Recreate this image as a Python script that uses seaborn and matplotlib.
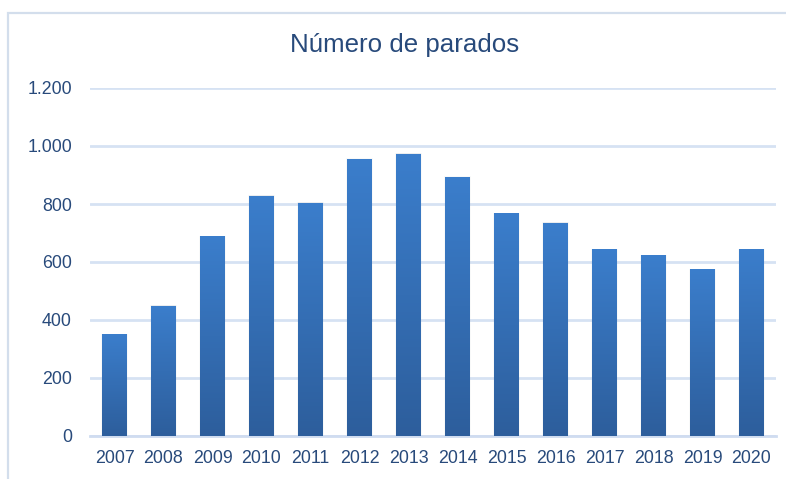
import numpy as np
import pandas as pd
import matplotlib
matplotlib.use("Agg")
import matplotlib.pyplot as plt
import seaborn as sns
from matplotlib.colors import LinearSegmentedColormap
from matplotlib.patches import Rectangle
from matplotlib.ticker import FuncFormatter

years = ["2007", "2008", "2009", "2010", "2011", "2012", "2013",
         "2014", "2015", "2016", "2017", "2018", "2019", "2020"]
parados = [352, 450, 688, 829, 805, 956, 974, 894, 768, 736, 645, 623, 576, 645]
title = "Número de parados"

df = pd.DataFrame({"year": years, "parados": parados})

sns.set_theme(style="white")
plt.rcParams["font.family"] = ["Liberation Sans", "DejaVu Sans"]
text_color = "#284a7b"
grid_color = "#d6e2f3"

fig = plt.figure(figsize=(7.86, 4.79), dpi=100)
ax = fig.add_axes([90 / 786, 1 - 436 / 479, 686 / 786, 348 / 479])

sns.barplot(data=df, x="year", y="parados", color="#3a7bc8", width=0.5,
            ax=ax, zorder=3)

ax.set_ylim(0, 1200)
ax.set_yticks(np.arange(0, 1201, 200))
ax.yaxis.set_major_formatter(FuncFormatter(lambda v, _: f"{int(v):,}".replace(",", ".")))
ax.grid(axis="y", color=grid_color, linewidth=2.0, zorder=0)
ax.set_axisbelow(True)
for s in ["top", "right", "left"]:
    ax.spines[s].set_visible(False)
ax.spines["bottom"].set_color("#cfdcf0")
ax.spines["bottom"].set_linewidth(2.0)
ax.tick_params(axis="both", length=0, labelsize=12.8, colors=text_color)
ax.tick_params(axis="y", pad=13)
ax.tick_params(axis="x", pad=10)
ax.set_xlabel("")
ax.set_ylabel("")

# vertical gradient fill for each bar: lighter at the top, darker at the base
cmap = LinearSegmentedColormap.from_list("bar", ["#2d5e9c", "#3b7ecc"])
grad = np.linspace(0, 1, 256).reshape(-1, 1)
for p in list(ax.patches):
    x0, y0 = p.get_x(), p.get_y()
    w, h = p.get_width(), p.get_height()
    # soft shadow behind the bar
    for k, a in [(0.012, 0.10), (0.022, 0.05)]:
        sh = Rectangle((x0 - k, y0), w + 2 * k, h + k * 60, facecolor="#7f8c9c",
                       edgecolor="none", alpha=a, zorder=2)
        ax.add_patch(sh)
    im = ax.imshow(grad, extent=[x0, x0 + w, y0, y0 + h], origin="lower",
                   cmap=cmap, aspect="auto", zorder=3)
    im.set_clip_path(p)
    p.set_facecolor("none")
    p.set_edgecolor("none")
ax.set_xlim(-0.5, len(years) - 0.5)
ax.set_ylim(0, 1200)

fig.text(405 / 786, 1 - 45 / 479, title, ha="center", va="center",
         fontsize=18.6, color=text_color)

# chart frame (open to the right and bottom edges of the image)
frame = Rectangle((8 / 786, -1.0), 2.0, 2.0 - 13 / 479, transform=fig.transFigure,
                  facecolor="none", edgecolor="#d3deec", linewidth=1.6)
fig.patches.append(frame)

fig.savefig("out.png", dpi=100)
